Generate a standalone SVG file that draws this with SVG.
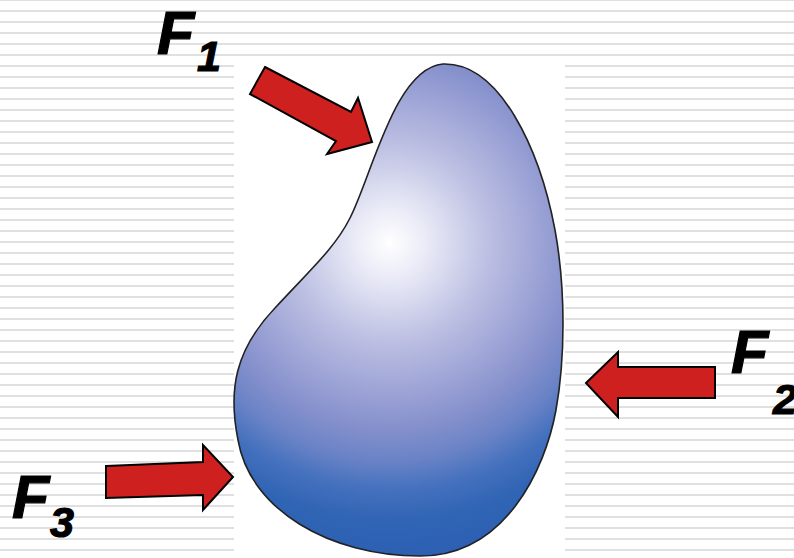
<svg xmlns="http://www.w3.org/2000/svg" width="794" height="558" viewBox="0 0 794 558">
<defs>
<pattern id="stripes" patternUnits="userSpaceOnUse" width="20" height="11">
<rect x="0" y="0" width="20" height="1" fill="#e0e0e0"/>
<rect x="0" y="10" width="20" height="1" fill="#e0e0e0"/>
</pattern>
<radialGradient id="blobGrad" gradientUnits="userSpaceOnUse" cx="390" cy="243" r="320">
<stop offset="0" stop-color="#ffffff"/>
<stop offset="0.12" stop-color="#e8e9f6"/>
<stop offset="0.3" stop-color="#bec1e3"/>
<stop offset="0.45" stop-color="#a0a6d7"/>
<stop offset="0.58" stop-color="#8590cc"/>
<stop offset="0.68" stop-color="#6a83c6"/>
<stop offset="0.77" stop-color="#4571be"/>
<stop offset="0.87" stop-color="#3064b4"/>
<stop offset="1" stop-color="#2c5fb2"/>
</radialGradient>
<style>
.arrow{fill:#cf2020;stroke:#000;stroke-width:2;stroke-linejoin:miter}
.lbl{font-family:"Liberation Sans",Arial,sans-serif;font-weight:bold;font-style:italic;fill:#000;stroke:#000;stroke-width:1.2}
.big{font-size:61px}
.sub{font-size:43px}
</style>
</defs>
<rect width="794" height="558" fill="#ffffff"/>
<rect width="794" height="558" fill="url(#stripes)"/>
<rect x="234" y="57" width="331" height="501" fill="#ffffff"/>
<g id="body">
<path d="M443,64 C500,62 540,150 555,230 C566,290 565,360 556,410 C545,470 505,556 420,556 C330,556 250,510 238,440 C228,390 235,350 275,308 C310,270 335,248 350,218 C372,175 395,68 443,64 Z" fill="url(#blobGrad)" stroke="#222" stroke-width="1.6"/>
</g>
<g id="connectors">
<polygon id="arrowF1" class="arrow" points="265,67 351,112 358,98 372,142 327,154 336,141 250,94"/>
<polygon id="arrowF2" class="arrow" points="586,383 618,352 618,367 715,367 715,398 618,398 618,417"/>
<polygon id="arrowF3" class="arrow" points="106,466 203,462 203,445 233,477 203,510 203,495 106,498"/>
</g>
<g id="labelF1"><text class="lbl big" x="157" y="54">F</text><text class="lbl sub" x="197" y="71">1</text></g>
<g id="labelF2"><text class="lbl big" x="731" y="373">F</text><text class="lbl sub" x="773" y="414">2</text></g>
<g id="labelF3"><text class="lbl big" x="12" y="518">F</text><text class="lbl sub" x="50" y="537">3</text></g>
</svg>
